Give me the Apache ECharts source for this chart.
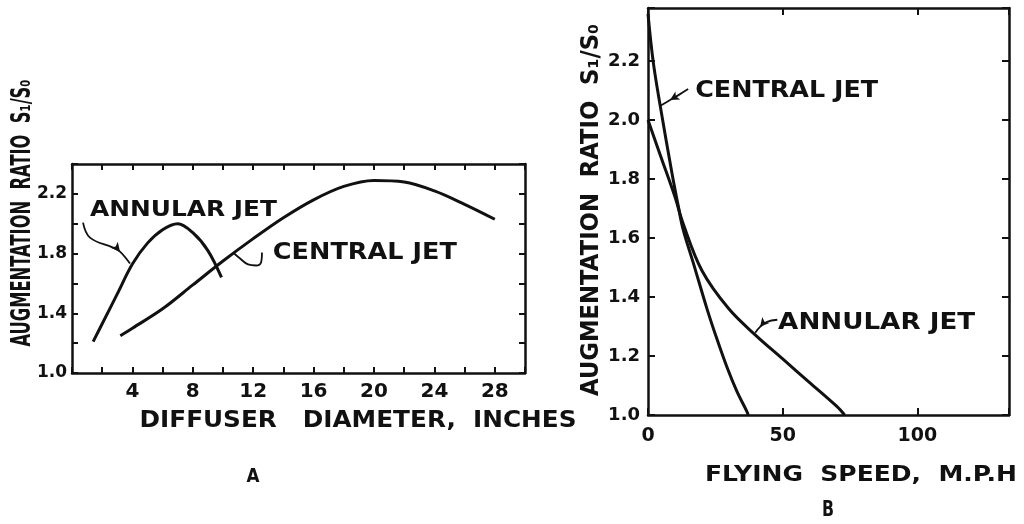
<!DOCTYPE html>
<html>
<head>
<meta charset="utf-8">
<script src="https://cdn.jsdelivr.net/npm/echarts@6/dist/echarts.min.js"></script>
<style>
html,body{margin:0;padding:0;background:#fff;}
#c{width:1024px;height:524px;}
</style>
</head>
<body>
<div id="c"></div>
<script>
// ---------- DATA ----------
// Panel A: augmentation ratio vs diffuser diameter (inches)
var aCentralJet = [[3.2,1.25],[4,1.30],[6,1.43],[8,1.59],[10,1.75],[12,1.90],[14,2.04],[16,2.16],[18,2.25],[20,2.29],[22,2.28],[24,2.22],[26,2.13],[28,2.03]];
var aAnnularJet = [[1.4,1.21],[2,1.33],[3,1.53],[4,1.73],[5,1.87],[6,1.96],[7,2.00],[8,1.94],[9,1.82],[9.9,1.64]];
// Panel B: augmentation ratio vs flying speed (m.p.h.)
var bCentralJet = [[0,2.36],[1.9,2.20],[4.5,2.05],[8.9,1.82],[11.2,1.71],[13,1.63],[17,1.51],[21.9,1.36],[25.5,1.26],[29.4,1.16],[33,1.08],[36.8,1.01],[37.2,1.0]];
var bAnnularJet = [[0,2.0],[5,1.87],[10,1.74],[13,1.65],[20,1.49],[30,1.36],[40,1.27],[50,1.19],[60,1.11],[70,1.03],[73,1.0]];

// tick labels
var aXTickLabels = [4,8,12,16,20,24,28];
var aYTickLabels = [1.0,1.4,1.8,2.2];
var bXTickLabels = [0,50,100];
var bYTickLabels = [1.0,1.2,1.4,1.6,1.8,2.0,2.2];

// leader lines (data coordinates)
var aAnnularLeader = [[0.73,2.007],[1.19,1.907],[2.72,1.84],[3.18,1.813],[3.84,1.733]];
var aCentralLeader = [[10.66,1.807],[11.13,1.767],[11.66,1.727],[12.19,1.72],[12.52,1.74],[12.58,1.807]];
var bCentralLeader = [[14.9,2.105],[11.9,2.088],[8.2,2.068],[4.46,2.048]];
var bAnnularLeader = [[48.0,1.323],[44.2,1.316],[41.6,1.299],[39.8,1.279]];

// annotation labels: text, panel, anchor (data coordinates)
var annotations = [
  {text:'ANNULAR JET', panel:0, at:[1.19,2.087], w:187, cap:16},
  {text:'CENTRAL JET', panel:0, at:[13.3,1.807], w:184, cap:17},
  {text:'CENTRAL JET', panel:1, at:[17.5,2.10], w:183, cap:17},
  {text:'ANNULAR JET', panel:1, at:[48.3,1.313], w:197, cap:17}
];

// ---------- CHART ----------
var FONT = '"DejaVu Sans", "Liberation Sans", sans-serif';
var INK = '#111';
var chart = echarts.init(document.getElementById('c'), null, {renderer:'canvas'});

var axisLineStyle = {show:true, onZero:false, lineStyle:{color:INK, width:2.5}};
function tick(len){ return {show:true, inside:true, length:len, lineStyle:{color:INK, width:2}}; }
function pick(list, digits){
  return function(v){
    for (var i=0;i<list.length;i++){ if (Math.abs(list[i]-v) < 1e-6) return list[i].toFixed(digits); }
    return '';
  };
}

var mc = document.createElement('canvas').getContext('2d');
function fitText(text, x, y, w, cap, align, rot, size){
  var F = size || 20;
  mc.font = 'bold ' + F + 'px "DejaVu Sans"';
  var mw = mc.measureText(text).width;
  return {
    type:'text', x:x, y:y, rotation: rot || 0,
    scaleX: w / mw, scaleY: cap / (0.729 * F),
    style:{text:text, fill:INK, font:'bold ' + F + 'px ' + FONT, textAlign: align || 'center', textVerticalAlign:'middle'},
    silent:true, z:10
  };
}

function leader(data, xi, yi, arrowIdx, rot){
  return {
    type:'line', xAxisIndex:xi, yAxisIndex:yi, smooth:0.4, symbol:'none', showSymbol:true,
    lineStyle:{color:INK, width:1.8}, silent:true,
    data: data.map(function(p,i){
      if (i === arrowIdx) return {value:p, symbol:'arrow', symbolSize:[7,9], symbolRotate:rot, itemStyle:{color:INK}};
      return {value:p};
    })
  };
}
function curve(name, data, xi, yi){
  return {name:name, type:'line', xAxisIndex:xi, yAxisIndex:yi, data:data, smooth:0.35, symbol:'none', lineStyle:{color:INK, width:3}};
}

var option = {
  animation:false,
  backgroundColor:'#fff',
  grid:[
    {left:72, top:164, width:453, height:209, containLabel:false},
    {left:648, top:8, width:361, height:407, containLabel:false}
  ],
  xAxis:[
    {gridIndex:0, type:'value', min:0, max:30, interval:2, position:'bottom',
     axisLine:axisLineStyle, axisTick:tick(6), splitLine:{show:false},
     axisLabel:{margin:9, color:INK, fontFamily:FONT, fontWeight:'bold', fontSize:20, formatter:pick(aXTickLabels,0)}},
    {gridIndex:0, type:'value', min:0, max:30, interval:2, position:'top',
     axisLine:axisLineStyle, axisTick:tick(6), axisLabel:{show:false}, splitLine:{show:false}},
    {gridIndex:1, type:'value', min:0, max:134, interval:50, position:'bottom',
     axisLine:axisLineStyle, axisTick:tick(7), splitLine:{show:false},
     axisLabel:{margin:12, color:INK, fontFamily:FONT, fontWeight:'bold', fontSize:19, formatter:pick(bXTickLabels,0)}},
    {gridIndex:1, type:'value', min:0, max:134, interval:50, position:'top',
     axisLine:axisLineStyle, axisTick:tick(7), axisLabel:{show:false}, splitLine:{show:false}}
  ],
  yAxis:[
    {gridIndex:0, type:'value', min:1.0, max:2.4, interval:0.2, position:'left',
     axisLine:axisLineStyle, axisTick:tick(6), splitLine:{show:false},
     axisLabel:{margin:5, color:INK, fontFamily:FONT, fontWeight:'bold', fontSize:17, formatter:pick(aYTickLabels,1)}},
    {gridIndex:0, type:'value', min:1.0, max:2.4, interval:0.2, position:'right',
     axisLine:axisLineStyle, axisTick:tick(6), axisLabel:{show:false}, splitLine:{show:false}},
    {gridIndex:1, type:'value', min:1.0, max:2.38, interval:0.2, position:'left',
     axisLine:axisLineStyle, axisTick:tick(7), splitLine:{show:false},
     axisLabel:{margin:8, color:INK, fontFamily:FONT, fontWeight:'bold', fontSize:18, formatter:pick(bYTickLabels,1)}},
    {gridIndex:1, type:'value', min:1.0, max:2.38, interval:0.2, position:'right',
     axisLine:axisLineStyle, axisTick:tick(7), axisLabel:{show:false}, splitLine:{show:false}}
  ],
  series:[
    curve('Central jet (A)', aCentralJet, 0, 0),
    curve('Annular jet (A)', aAnnularJet, 0, 0),
    curve('Central jet (B)', bCentralJet, 2, 2),
    curve('Annular jet (B)', bAnnularJet, 2, 2),
    leader(aAnnularLeader, 0, 0, 3, -140),
    leader(aCentralLeader, 0, 0, -1, 0),
    leader(bCentralLeader, 2, 2, 2, 121),
    leader(bAnnularLeader, 2, 2, 2, 140)
  ]
};
chart.setOption(option);

// titles and annotation labels
var g = [
  fitText('AUGMENTATION  RATIO  S\u2081/S\u2080', 23, 213, 267, 19, 'center', Math.PI/2),
  fitText('AUGMENTATION  RATIO  S\u2081/S\u2080', 592, 210, 372, 18, 'center', Math.PI/2),
  fitText('DIFFUSER   DIAMETER,  INCHES', 358, 421, 437, 17, 'center'),
  fitText('FLYING  SPEED,  M.P.H', 861, 475, 312, 16, 'center'),
  fitText('A', 253, 477, 13, 14, 'center'),
  fitText('B', 828, 511, 12, 15, 'center')
];
annotations.forEach(function(a){
  var p = chart.convertToPixel({xAxisIndex: a.panel*2, yAxisIndex: a.panel*2}, a.at);
  g.push(fitText(a.text, p[0], p[1], a.w, a.cap, 'left'));
});
chart.setOption({graphic:g});
</script>
</body>
</html>
